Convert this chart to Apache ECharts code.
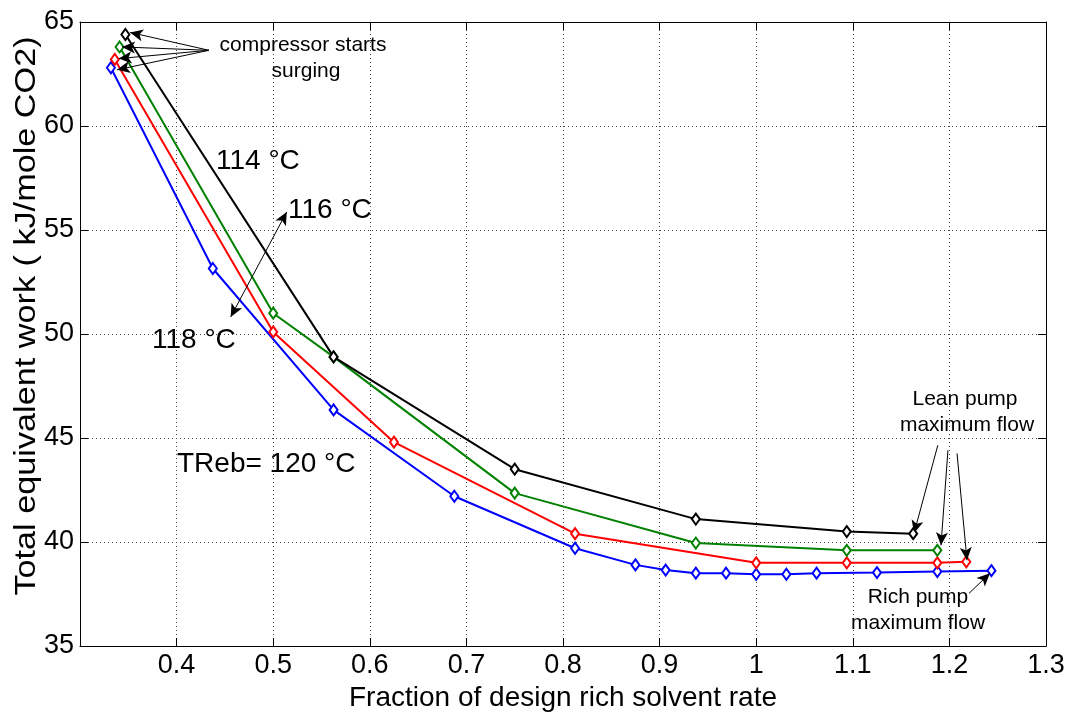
<!DOCTYPE html>
<html>
<head>
<meta charset="utf-8">
<script src="https://cdn.jsdelivr.net/npm/echarts@6/dist/echarts.min.js"></script>
<style>html,body{margin:0;padding:0;background:#fff;}#c{width:1076px;height:721px;}</style>
</head>
<body>
<div id="c"></div>
<script>
// ---- data ----
const xTicks = [0.4, 0.5, 0.6, 0.7, 0.8, 0.9, 1, 1.1, 1.2, 1.3];
const yTicks = [35, 40, 45, 50, 55, 60, 65];

const x114 = [0.347, 0.5625, 0.75, 0.9375, 1.09375, 1.1625];
const y114 = [64.4, 48.9, 43.5, 41.1, 40.5, 40.4];

const x116 = [0.341, 0.5, 0.5625, 0.75, 0.9375, 1.09375, 1.1875];
const y116 = [63.8, 51.0, 48.9, 42.35, 39.95, 39.6, 39.6];

const x118 = [0.336, 0.5, 0.625, 0.8125, 1.0, 1.09375, 1.1875, 1.2175];
const y118 = [63.2, 50.1, 44.8, 40.4, 39.0, 39.0, 39.0, 39.05];

const x120 = [0.332, 0.4375, 0.5625, 0.6875, 0.8125, 0.875, 0.90625, 0.9375, 0.96875, 1.0, 1.03125, 1.0625, 1.125, 1.1875, 1.2435];
const y120 = [62.8, 53.15, 46.35, 42.2, 39.7, 38.9, 38.65, 38.5, 38.5, 38.45, 38.45, 38.5, 38.53, 38.58, 38.62];

// annotation arrows: [tailX, tailY, headX, headY]
const surgeArrows = [
  [0.4335, 63.64, 0.3518, 64.5],
  [0.4335, 63.64, 0.3435, 63.8],
  [0.4335, 63.64, 0.3400, 63.24],
  [0.4335, 63.64, 0.3383, 62.7]
];
const leanArrows = [
  [1.188, 44.65, 1.1634, 40.42],
  [1.1985, 44.41, 1.1913, 39.84],
  [1.2079, 44.26, 1.2182, 39.12]
];
const richArrow = [1.2203, 37.53, 1.242, 38.5];
const tempArrow = [0.456, 50.82, 0.514, 55.87];

// ---- chart ----
const FONT = "'Liberation Sans',Arial,Helvetica,sans-serif";
const zip = (xs, ys) => xs.map((x, i) => [x, ys[i]]);

function mkSeries(name, xs, ys, color, z) {
  return {
    name: name, type: 'line', data: zip(xs, ys), z: z,
    symbol: 'emptyDiamond', symbolSize: [8, 11],
    lineStyle: { color: color, width: 2 },
    itemStyle: { color: color, borderWidth: 1.5 },
    emphasis: { disabled: true }, animation: false
  };
}
const arrowData = [];
surgeArrows.concat(leanArrows, [richArrow]).forEach(a => {
  arrowData.push([{ coord: [a[0], a[1]] }, { coord: [a[2], a[3]] }]);
});
arrowData.push([{ coord: [tempArrow[0], tempArrow[1]], symbol: 'arrow' }, { coord: [tempArrow[2], tempArrow[3]] }]);

function txt(x, y, text, size, align) {
  return { type: 'text', x: x, y: y, z: 10,
    style: { text: text, fontFamily: FONT, fontSize: size, fill: '#000', align: align || 'center', verticalAlign: 'middle' } };
}

const chart = echarts.init(document.getElementById('c'), null, { renderer: 'canvas' });
const fmt = v => String(Math.round(v * 10) / 10);
const option = {
  backgroundColor: '#fff',
  animation: false,
  grid: { left: 80, right: 30, top: 22, bottom: 75, containLabel: false },
  xAxis: [{
    type: 'value', min: 0.3, max: 1.3, interval: 0.1,
    name: 'Fraction of design rich solvent rate', nameLocation: 'middle', nameGap: 33,
    nameTextStyle: { fontFamily: FONT, fontSize: 28, color: '#000' },
    axisLine: { show: true, lineStyle: { color: '#000', width: 1 } },
    axisTick: { show: true, inside: true, length: 8, lineStyle: { color: '#000' } },
    axisLabel: { showMinLabel: false, formatter: fmt, fontFamily: FONT, fontSize: 27, color: '#000', margin: 6 },
    splitLine: { show: true, lineStyle: { color: '#444', width: 1, type: [1, 3] } }
  }, {
    type: 'value', position: 'top', min: 0.3, max: 1.3, interval: 0.1,
    axisLine: { show: true, onZero: false, lineStyle: { color: '#000', width: 1 } },
    axisTick: { show: true, inside: true, length: 8, lineStyle: { color: '#000' } },
    axisLabel: { show: false }, splitLine: { show: false }
  }],
  yAxis: [{
    type: 'value', min: 35, max: 65, interval: 5,
    axisLine: { show: true, lineStyle: { color: '#000', width: 1 } },
    axisTick: { show: true, inside: true, length: 8, lineStyle: { color: '#000' } },
    axisLabel: { fontFamily: FONT, fontSize: 27, color: '#000', margin: 6 },
    splitLine: { show: true, lineStyle: { color: '#444', width: 1, type: [1, 3] } }
  }, {
    type: 'value', position: 'right', min: 35, max: 65, interval: 5,
    axisLine: { show: true, onZero: false, lineStyle: { color: '#000', width: 1 } },
    axisTick: { show: true, inside: true, length: 8, lineStyle: { color: '#000' } },
    axisLabel: { show: false }, splitLine: { show: false }
  }],
  series: [
    mkSeries('120 °C', x120, y120, '#0000ff', 2),
    mkSeries('118 °C', x118, y118, '#ff0000', 3),
    mkSeries('116 °C', x116, y116, '#008000', 4),
    mkSeries('114 °C', x114, y114, '#000000', 5),
    {
      name: 'arrows', type: 'line', data: [], silent: true, z: 6,
      markLine: {
        silent: true, animation: false, symbol: ['none', 'arrow'], symbolSize: [9, 13],
        label: { show: false }, emphasis: { disabled: true },
        lineStyle: { color: '#000', width: 1, type: 'solid' },
        data: arrowData
      }
    }
  ],
  graphic: [
    { type: 'text', x: 27, y: 316, rotation: Math.PI / 2, scaleX: 1.18, z: 10,
      style: { text: 'Total equivalent work ( kJ/mole CO2)', fontFamily: FONT, fontSize: 29, fill: '#000', align: 'center', verticalAlign: 'middle' } },
    txt(303, 45, 'compressor starts', 21),
    txt(306, 71, 'surging', 21),
    txt(216, 161, '114 °C', 28, 'left'),
    txt(288, 210, '116 °C', 28, 'left'),
    txt(152, 340, '118 °C', 28, 'left'),
    txt(177, 464, 'TReb= 120 °C', 28, 'left'),
    txt(965, 399, 'Lean pump', 21),
    txt(967, 425, 'maximum flow', 21),
    txt(918, 597, 'Rich pump', 21),
    txt(918, 623, 'maximum flow', 21)
  ]
};
chart.setOption(option);
</script>
</body>
</html>
